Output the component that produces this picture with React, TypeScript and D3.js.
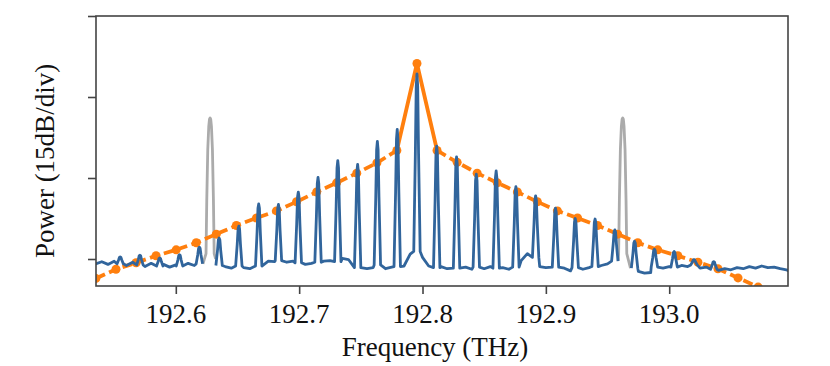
import React, { useEffect, useRef } from "react";
import * as d3 from "d3";

// axis
const X_TICKS = [192.6, 192.7, 192.8, 192.9, 193.0];
const Y_TICKS = [0, 15, 30, 45]; // dB, 15 dB per division

// comb lines of the measured spectrum (THz, dB)
const combFreqs = [
  192.5549, 192.5709, 192.587, 192.603, 192.6191, 192.6351, 192.6511, 192.6672,
  192.6832, 192.6993, 192.7153, 192.7313, 192.7474, 192.7634, 192.7795, 192.7955,
  192.8115, 192.8276, 192.8436, 192.8597, 192.8757, 192.8917, 192.9078, 192.9238,
  192.9399, 192.9559, 192.9719, 192.988, 193.004, 193.0201, 193.0361,
];
const combLevels = [
  0.4, 0.7, 0.2, 0.8, 2.2, 3.9, 6.1, 10.2, 10.1, 12.4, 15.1, 18.2, 17.5, 21.8, 24.0, 34.3,
  20.9, 18.9, 15.7, 16.3, 13.4, 11.7, 9.4, 7.5, 7.4, 5.4, 3.3, 1.8, 1.4, -0.1, -0.5,
];

// noise floor, one reading every 5 GHz from 192.535 THz
const floorStart = 192.535;
const floorStep = 0.005;
const floorLevels = [
  -0.9, -0.5, -1.0, -0.4, -0.9, -1.2, -0.6, -1.1, -1.4, -0.8, -1.3, -1.0, -1.5, -1.1, -1.3, -0.8,
  -1.2, -0.9, -1.0, -1.1, -1.2, -1.4, -1.7, -1.3, -1.6, -1.8, -1.3, -0.8, -0.4, -0.5, -0.3, -0.6,
  -0.4, -0.7, -1.0, -0.8, -0.6, -0.4, -0.3, -0.5, 0.1, -0.1, -1.6, -1.4, -1.8, -1.6, -1.1, -1.8,
  -1.5, -1.4, -1.3, 0.9, 1.4, 0.3, -1.3, -1.6, -1.4, -1.8, -1.6, -1.7, -1.5, -1.9, -1.5, -1.8,
  -1.4, -1.7, -1.6, -1.9, -1.5, -0.3, 1.0, 0.3, -1.4, -1.6, -1.8, -1.5, -1.7, -2.2, -1.6, -1.9,
  -1.6, -1.4, -1.2, -0.9, -0.4, -0.6, -1.4, -1.7, -2.3, -2.6, -2.5, -1.5, -1.7, -1.4, -1.5, -1.2,
  -1.4, -1.1, -1.7, -1.5, -1.9, -2.1, -1.8, -2.0, -1.6, -1.8, -1.4, -1.7, -1.3, -1.6, -1.5, -1.8,
  -2.0, -2.6,
];

// shape of one comb line: offset (THz) and fraction of its height above the floor
const lineOffsets = [-0.0026, -0.0013, -0.0006, 0, 0.0006, 0.0013, 0.0026];
const lineFrac = [0, 0.55, 0.93, 1, 0.93, 0.55, 0];

// pump lines (grey)
const pumpFreqs = [192.6278, 192.9623];
const pumpFootLeft = [-0.0058, -0.0036];
const pumpFootRight = [0.0045, 0.0063];
const pumpFootLevelLeft = [-0.9, -0.3];
const pumpFootLevelRight = [0.0, -1.7];
const pumpOffsets = [-0.0033, -0.0027, -0.0019, -0.0011, -0.0005, 0, 0.0005, 0.0011, 0.0019, 0.0027, 0.0033];
const pumpLevels = [1.0, 10.9, 20.2, 24.5, 25.9, 26.1, 25.9, 24.5, 20.2, 10.9, 1.0];

// envelope markers (orange)
const envFreqs = [
  192.5352, 192.5515, 192.5678, 192.584, 192.6003, 192.6166, 192.6328, 192.6491, 192.6654,
  192.6816, 192.6979, 192.7142, 192.7304, 192.7467, 192.763, 192.7792, 192.7955, 192.8118,
  192.8281, 192.8443, 192.8606, 192.8769, 192.8931, 192.9094, 192.9257, 192.9419, 192.9582,
  192.9745, 192.9907, 193.007, 193.0233, 193.0395, 193.0558, 193.0721,
];
const envLevels = [
  -3.6, -1.9, -0.7, 0.6, 1.7, 3.0, 4.6, 6.2, 7.6, 8.9, 10.6, 12.4, 14.1, 15.9, 17.8, 20.1, 36.2,
  20.1, 17.9, 15.9, 14.1, 12.4, 10.6, 8.9, 7.6, 6.2, 4.6, 3.0, 1.7, 0.6, -0.6, -1.8, -3.5, -5.2,
];

type P = { f: number; v: number };

export default function App() {
  const ref = useRef<SVGSVGElement | null>(null);
  useEffect(() => {
    const node = ref.current;
    if (!node) return;
    const svg = d3.select(node);
    svg.selectAll("*").remove();
    const w = 830, h = 366, m = { t: 16, r: 42, b: 80, l: 96 };
    const x = d3.scaleLinear().domain([192.5353, 193.0963]).range([m.l, w - m.r]);
    const y = d3.scaleLinear().domain([-5, 45]).range([h - m.b, m.t]);
    const font = "'Liberation Serif', 'Times New Roman', serif";
    const axisCol = "#444";

    svg.append("defs").append("clipPath").attr("id", "plot")
      .append("rect").attr("x", m.l).attr("y", m.t).attr("width", w - m.l - m.r).attr("height", h - m.t - m.b);

    // blue trace: floor readings plus the comb lines
    const nearestFloor = (f: number) =>
      floorLevels[Math.max(0, Math.min(floorLevels.length - 1, Math.round((f - floorStart) / floorStep)))];
    const pts: P[] = floorLevels
      .map((v, i) => ({ f: floorStart + i * floorStep, v }))
      .filter((p) => !combFreqs.some((c) => Math.abs(p.f - c) < 0.003));
    combFreqs.forEach((c, i) => {
      const base = nearestFloor(c);
      lineOffsets.forEach((o, j) => pts.push({ f: c + o, v: base + (combLevels[i] - base) * lineFrac[j] }));
    });
    pts.sort((a, b) => a.f - b.f);
    const inPump = (f: number) =>
      pumpFreqs.some((p, i) => f > p + pumpFootLeft[i] && f < p + pumpFootRight[i]);

    const line = d3.line<P>().x((d) => x(d.f)).y((d) => y(d.v));
    const g = svg.append("g").attr("clip-path", "url(#plot)");

    // grey pumps
    pumpFreqs.forEach((p, i) => {
      const gp: P[] = [{ f: p + pumpFootLeft[i], v: pumpFootLevelLeft[i] }]
        .concat(pumpOffsets.map((o, j) => ({ f: p + o, v: pumpLevels[j] })))
        .concat([{ f: p + pumpFootRight[i], v: pumpFootLevelRight[i] }]);
      g.append("path").attr("d", line(gp)).attr("fill", "none").attr("stroke", "#ababab")
        .attr("stroke-width", 2.8).attr("stroke-linejoin", "round");
    });

    // orange envelope
    const env: P[] = envFreqs.map((f, i) => ({ f, v: envLevels[i] }));
    const orange = "#ff7f0e";
    [env.slice(0, 16), env.slice(17)].forEach((seg) =>
      g.append("path").attr("d", line(seg)).attr("fill", "none").attr("stroke", orange)
        .attr("stroke-width", 3.8).attr("stroke-dasharray", "10,4.5"));
    g.append("path").attr("d", line(env.slice(15, 18))).attr("fill", "none").attr("stroke", orange)
      .attr("stroke-width", 3.8).attr("stroke-linejoin", "round");
    g.selectAll("circle").data(env).enter().append("circle")
      .attr("cx", (d) => x(d.f)).attr("cy", (d) => y(d.v)).attr("r", 4.5).attr("fill", orange);

    // blue spectrum
    g.append("path").attr("d", line.defined((d) => !inPump(d.f))(pts)).attr("fill", "none")
      .attr("stroke", "#31659c").attr("stroke-width", 2.8).attr("stroke-linejoin", "round");

    // frame
    svg.append("rect").attr("x", m.l).attr("y", m.t).attr("width", w - m.l - m.r).attr("height", h - m.t - m.b)
      .attr("fill", "none").attr("stroke", axisCol).attr("stroke-width", 1.6);

    const xa = svg.append("g").attr("transform", `translate(0,${h - m.b})`)
      .call(d3.axisBottom(x).tickValues(X_TICKS).tickSize(8).tickFormat(() => ""));
    xa.select(".domain").remove();
    xa.selectAll("line").attr("stroke", axisCol).attr("stroke-width", 1.6);
    svg.selectAll("text.xt").data(X_TICKS).enter().append("text").attr("class", "xt")
      .attr("x", (d) => x(d)).attr("y", 323).attr("text-anchor", "middle")
      .attr("font-family", font).attr("font-size", 27).attr("fill", "#111").text((d) => d3.format(".1f")(d));

    const ya = svg.append("g").attr("transform", `translate(${m.l},0)`)
      .call(d3.axisLeft(y).tickValues(Y_TICKS).tickSize(8).tickFormat(() => ""));
    ya.select(".domain").remove();
    ya.selectAll("line").attr("stroke", axisCol).attr("stroke-width", 1.6);

    svg.append("text").attr("x", 435).attr("y", 356).attr("text-anchor", "middle")
      .attr("font-family", font).attr("font-size", 27).attr("fill", "#111").text("Frequency (THz)");
    svg.append("text").attr("transform", "translate(54,161) rotate(-90)").attr("text-anchor", "middle")
      .attr("font-family", font).attr("font-size", 27).attr("fill", "#111").text("Power (15dB/div)");
  }, []);
  return (
    <svg ref={ref} width={830} height={366} style={{ position: "absolute", left: 0, top: 0, background: "#fff" }} />
  );
}
